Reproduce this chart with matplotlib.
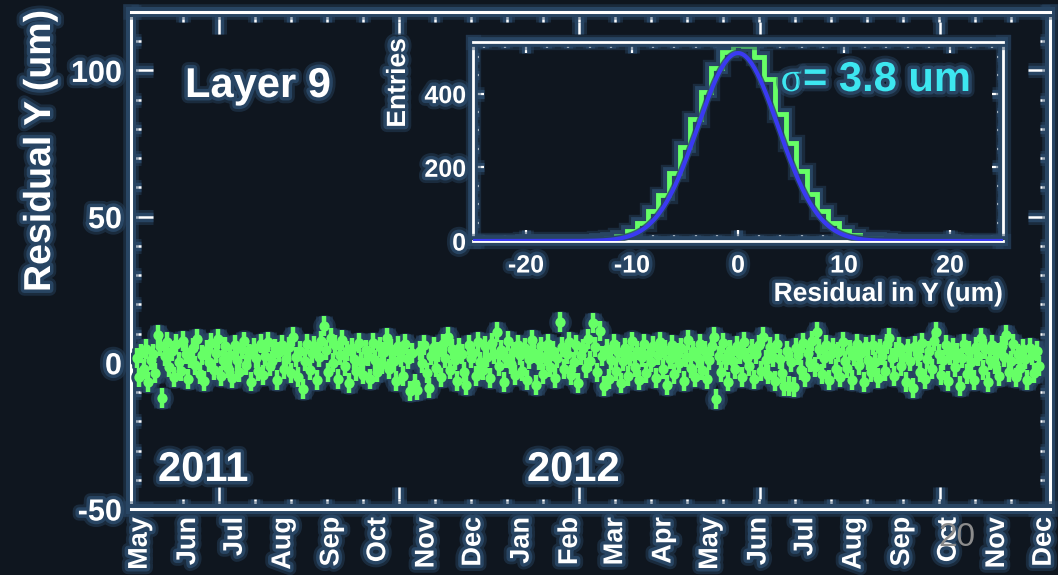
import numpy as np
import pandas as pd
import matplotlib
matplotlib.use('Agg')
import matplotlib.pyplot as plt
import matplotlib.patheffects as pe
from matplotlib.transforms import blended_transform_factory

plt.rcParams['axes.unicode_minus'] = False

W, H = 1058, 575
BG = '#0f161f'
GLOW = '#284563'
GREEN = '#66ff66'
BLUE = '#3a3af2'
CYAN = '#3de6f0'
FONT = 'Liberation Sans'

# residuals for layer 9 (um), one point every 1.5 days from 2011-04-29
resid = [
    1.5, -5.0, 3.2, -2.1, 4.6, -6.5, 0.8, 2.9, -3.4, 9.5,
    5.8, -12.0, 2.2, 7.1, -1.5, 4.0, -4.8, 6.3, 0.4, -2.7,
    7.5, 3.1, -5.6, 1.8, 5.2, -0.9, 8.0, -3.8, 2.6, -6.2,
    4.4, 0.2, 6.8, -2.4, 3.5, 8.2, -4.5, 1.1, 5.6, -1.8,
    2.7, -5.2, 6.1, 0.9, -3.1, 4.8, 7.3, -0.6, 3.0, -6.4,
    5.1, 1.6, -2.9, 6.6, -4.2, 2.3, 7.0, -1.2, 0.5, 4.9,
    -5.8, 3.7, 6.0, -2.2, 1.4, 5.5, -3.6, 9.0, 2.0, -4.9,
    4.1, -9.0, 0.7, 6.4, -2.6, 3.3, 5.9, -6.0, 1.9, 7.6,
    12.5, 4.3, -3.3, 8.6, 0.1, 6.2, -5.4, 2.8, 7.8, -1.0,
    3.9, -6.8, 5.0, 1.2, -2.8, 6.7, 0.3, -4.0, 4.5, 2.4,
    -5.5, 6.9, 1.0, -3.0, 5.3, -0.4, 3.6, 8.5, -2.0, 4.7,
    0.6, -6.1, 5.7, 2.1, -4.4, 6.5, 1.3, -9.5, 3.4, -7.2,
    -9.2, 4.2, 0.0, 6.0, -3.5, -8.5, 2.5, 5.4, -1.6, 3.8,
    -5.0, 6.6, 1.7, 9.0, -2.3, 4.6, 0.8, -6.3, 5.2, 2.9,
    -3.2, -7.5, 6.1, 1.5, 3.3, -4.6, 7.2, 0.2, -2.5, 5.8,
    2.0, -5.3, 6.8, 3.1, 10.5, -1.1, 4.4, -6.6, 1.8, 7.4,
    -0.5, 3.7, -4.1, 6.2, 2.6, -2.8, 5.0, -5.9, 1.2, 7.9,
    3.5, -7.5, 0.9, 5.6, -3.7, 2.2, 6.5, -1.4, 4.0, -5.2,
    1.6, 14.0, 5.3, -2.1, 3.0, 7.0, -4.3, 0.4, 6.0, -6.9,
    2.7, 4.9, -1.7, 8.1, 0.6, 13.5, 5.5, -3.3, 11.0, 2.3,
    -8.0, 4.6, -5.6, 1.0, 6.3, -2.9, 3.6, -7.0, 0.7, 5.1,
    -4.5, 2.4, 7.3, -1.3, 4.2, -6.0, 1.9, 6.4, -3.4, 3.1,
    0.3, 5.8, -5.1, 2.8, 7.1, -2.0, 4.5, -7.5, 1.4, 6.0,
    -3.8, 3.3, 0.0, 5.2, -6.2, 2.1, 7.7, -1.9, 4.1, -4.7,
    1.7, 6.3, -2.6, 3.9, -5.4, 0.8, 5.6, 9.0, -12.5, 2.5,
    -3.1, 6.9, 1.1, -6.4, 4.3, 0.5, -2.2, 5.9, 2.9, -4.8,
    7.2, 1.6, -1.0, 4.8, -5.7, 3.0, 6.1, -2.7, 9.0, 0.9,
    -4.0, 5.4, 2.0, -6.1, 6.6, 1.3, -3.6, -8.0, 4.0, -7.8,
    0.4, -8.2, 5.1, 2.6, -2.4, 6.8, -5.0, 3.5, 0.1, 7.5,
    -1.5, 10.5, 4.7, -3.9, 1.8, 6.2, -6.0, 2.9, 5.0, -2.0,
    3.6, -4.9, 7.0, 0.6, -1.8, 4.4, -5.9, 2.2, 6.4, -0.8,
    3.2, -6.7, 5.6, 1.0, -3.3, 6.0, 0.3, -5.2, 4.6, 2.5,
    -2.9, 6.5, 8.5, 1.5, -4.6, 3.8, 5.3, -1.2, 2.0, -6.5,
    4.9, 0.7, -8.5, 5.7, 2.4, -3.0, 6.9, -5.5, 1.2, 4.1,
    -2.1, 7.4, 10.5, 3.0, -4.2, 0.9, 6.2, -6.3, 2.7, 5.0,
    -1.4, 3.4, -8.0, 1.6, 6.6, -3.7, 4.2, 0.2, -5.8, 5.5,
    2.3, 8.5, -2.5, 4.8, -6.6, 1.1, 6.0, -0.3, 3.5, -4.4,
    5.8, 2.0, 9.5, -3.2, 0.6, 6.3, -5.0, 3.1, -1.6, 4.7,
    1.4, -6.0, 5.2, 2.6, -3.5, 3.9, -1.0,
]
resid_err = 3.4
days = np.arange(len(resid)) * 1.5 - 2.0   # days since 2011-05-01

month_labels = ['May', 'Jun', 'Jul', 'Aug', 'Sep', 'Oct', 'Nov', 'Dec',
                'Jan', 'Feb', 'Mar', 'Apr', 'May', 'Jun', 'Jul', 'Aug',
                'Sep', 'Oct', 'Nov', 'Dec']
month_starts = pd.date_range('2011-05-01', periods=len(month_labels), freq='MS')
month_pos = (month_starts - month_starts[0]).days.values

# residual histogram, 1 um bins centred on -25..25
hist_edges = np.arange(-25.5, 26.0, 1.0)
hist_counts = [0, 0, 1, 1, 1, 2, 2, 2, 3, 3,
               4, 4, 5, 7, 14, 26, 48, 82, 125, 185,
               255, 332, 405, 470, 512, 532, 530, 500, 440, 345,
               265, 190, 128, 82, 50, 28, 15, 9, 7, 5,
               4, 4, 3, 3, 2, 2, 1, 1, 1, 0, 0]
fit_mean, fit_sigma, fit_amp = 0.0, 3.8, 510.0


def fx(px):
    return px / W


def fy(py):
    return 1 - py / H


def glow(w):
    return [pe.Stroke(linewidth=w + 9, foreground=GLOW, alpha=0.45),
            pe.Stroke(linewidth=w + 5, foreground=GLOW),
            pe.Normal()]


TXT = [pe.Stroke(linewidth=9, foreground=GLOW, alpha=0.45),
       pe.Stroke(linewidth=5, foreground=GLOW),
       pe.Normal()]


def style_frame(ax, lw, maj, mnr, tw):
    ax.set_facecolor(BG)
    for s in ax.spines.values():
        s.set_color('white')
        s.set_linewidth(lw)
        s.set_path_effects(glow(lw))
    ax.tick_params(which='both', direction='in', top=True, right=True,
                   colors='white', width=tw)
    ax.tick_params(which='major', length=maj)
    ax.tick_params(which='minor', length=mnr)


fig = plt.figure(figsize=(W / 100, H / 100), dpi=100, facecolor=BG)

# ---- main residual vs time panel
ax = fig.add_axes([fx(131), fy(509), fx(1050) - fx(131), fy(12) - fy(509)])
style_frame(ax, 2.2, 16, 7, 1.8)
ax.set_xlim(-5.6, 584)
ax.set_ylim(-50, 120)

ms, ew = 7.4, 3.2
ax.errorbar(days, resid, yerr=resid_err, fmt='o', ms=ms + 9, mew=0,
            color=GLOW, elinewidth=ew + 9, capsize=0, alpha=0.5, zorder=2)
ax.errorbar(days, resid, yerr=resid_err, fmt='o', ms=ms + 4.5, mew=0,
            color=GLOW, elinewidth=ew + 4.5, capsize=0, zorder=3)
ax.errorbar(days, resid, yerr=resid_err, fmt='o', ms=ms, mew=0,
            color=GREEN, elinewidth=ew, capsize=0, zorder=4)

ax.set_xticks(np.arange(50.9, 584, 115.6))
ax.set_xticks(np.arange(27.8, 580, 23.1), minor=True)
ax.set_xticklabels([])
ax.set_yticks([-50, 0, 50, 100])
ax.set_yticks(np.arange(-50, 121, 10), minor=True)
ax.tick_params(axis='y', labelsize=22, pad=6.5)
for lab in ax.get_yticklabels():
    lab.set_fontfamily(FONT)
    lab.set_fontweight('bold')
    lab.set_path_effects(TXT)
for ln in ax.get_xticklines() + ax.get_yticklines() + \
        ax.get_xticklines(minor=True) + ax.get_yticklines(minor=True):
    ln.set_path_effects(glow(1.8))

bt = blended_transform_factory(ax.transData, ax.transAxes)
for pos, lab in zip(month_pos, month_labels):
    ax.text(pos, -0.016, lab, transform=bt, rotation=90, ha='center',
            va='top', color='white', fontsize=19.5, fontweight='bold',
            family=FONT, path_effects=TXT)

fig.text(fx(40), fy(10), 'Residual Y (um)', rotation=90, ha='center',
         va='top', color='white', fontsize=27, fontweight='bold',
         family=FONT, path_effects=TXT)
fig.text(fx(185), fy(97), 'Layer 9', ha='left', va='baseline', color='white',
         fontsize=30, fontweight='bold', family=FONT, path_effects=TXT)
fig.text(fx(158), fy(481), '2011', ha='left', va='baseline', color='white',
         fontsize=30, fontweight='bold', family=FONT, path_effects=TXT)
fig.text(fx(527), fy(481), '2012', ha='left', va='baseline', color='white',
         fontsize=30, fontweight='bold', family=FONT, path_effects=TXT)

# ---- inset: residual distribution with gaussian fit
ax2 = fig.add_axes([fx(473), fy(241), fx(1003) - fx(473), fy(42) - fy(241)])
style_frame(ax2, 2.0, 8, 4, 1.6)
ax2.set_xlim(-25, 25)
ax2.set_ylim(0, 540)
ax2.stairs(hist_counts, hist_edges, color=GREEN, linewidth=3.5,
           path_effects=glow(3.5), zorder=2)
xf = np.linspace(-25, 25, 400)
yf = fit_amp * np.exp(-0.5 * ((xf - fit_mean) / fit_sigma) ** 2)
ax2.plot(xf, yf, color=BLUE, linewidth=3, zorder=3,
         path_effects=[pe.Stroke(linewidth=5, foreground=GLOW, alpha=0.8),
                       pe.Normal()])

ax2.set_xticks([-20, -10, 0, 10, 20])
ax2.set_xticks(np.arange(-24, 25, 2), minor=True)
ax2.set_yticks([0, 200, 400])
ax2.set_yticks(np.arange(0, 541, 50), minor=True)
ax2.tick_params(labelsize=18, pad=5)
ax2.tick_params(axis='x', pad=9)
for lab in ax2.get_xticklabels() + ax2.get_yticklabels():
    lab.set_fontfamily(FONT)
    lab.set_fontweight('bold')
    lab.set_path_effects(TXT)
for ln in ax2.get_xticklines() + ax2.get_yticklines() + \
        ax2.get_xticklines(minor=True) + ax2.get_yticklines(minor=True):
    ln.set_path_effects(glow(1.6))

fig.text(fx(398), fy(38), 'Entries', rotation=90, ha='center', va='top',
         color='white', fontsize=19, fontweight='bold', family=FONT,
         path_effects=TXT)
fig.text(fx(1003), fy(301), 'Residual in Y (um)', ha='right', va='baseline',
         color='white', fontsize=19, fontweight='bold', family=FONT,
         path_effects=TXT)
fig.text(fx(803), fy(91), '\u03c3', ha='right', va='baseline', color=CYAN,
         fontsize=30, family='Liberation Serif', path_effects=TXT)
fig.text(fx(803), fy(91), '= 3.8 um', ha='left', va='baseline', color=CYAN,
         fontsize=30, fontweight='bold', family=FONT, path_effects=TXT)

# slide page number
fig.text(fx(957), fy(537), '20', ha='center', va='center', color='#8c8c8c',
         fontsize=24, family=FONT)

fig.savefig('out.png', dpi=100, facecolor=BG)
